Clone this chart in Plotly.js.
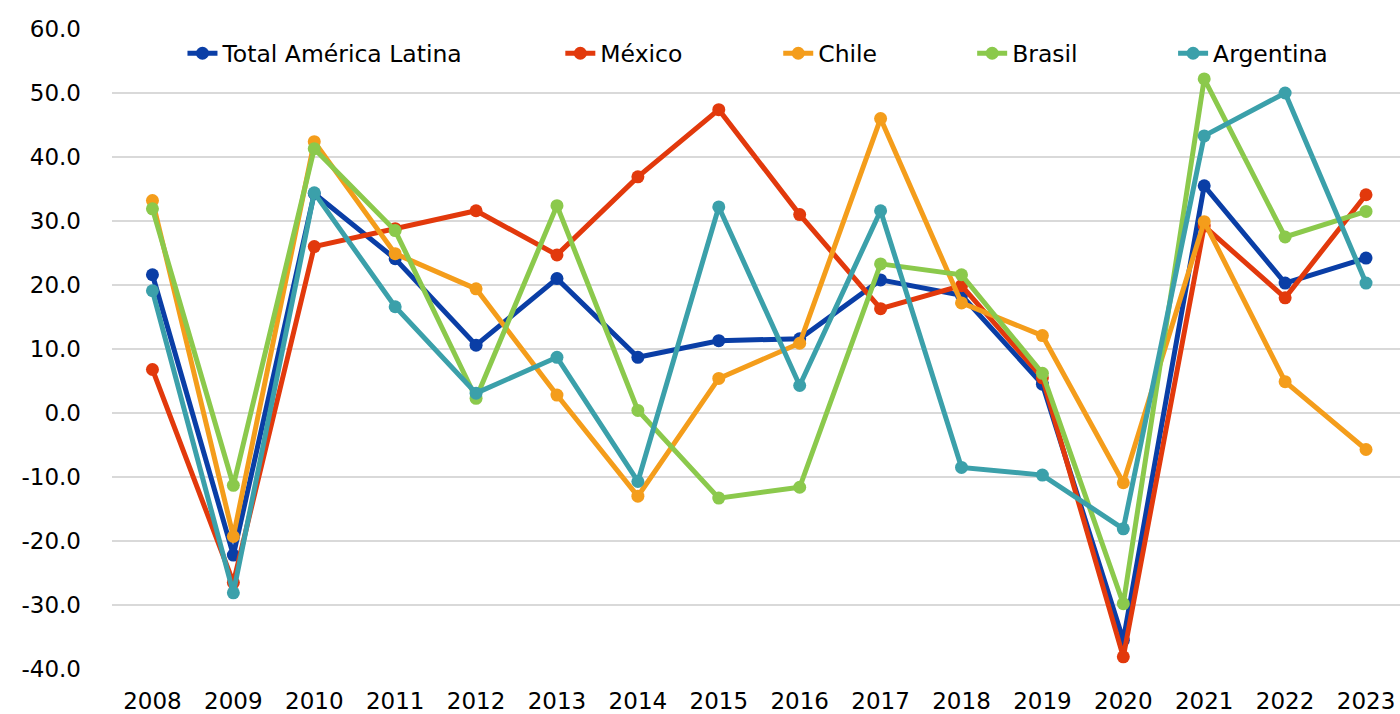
<!DOCTYPE html>
<html>
<head>
<meta charset="utf-8">
<script src="https://cdn.plot.ly/plotly-3.0.1.min.js"></script>
<style>
  html, body { margin: 0; padding: 0; background: #ffffff; }
  #chart { width: 1400px; height: 714px; }
</style>
</head>
<body>
<div id="chart"></div>
<script>
const years = ["2008","2009","2010","2011","2012","2013","2014","2015","2016","2017","2018","2019","2020","2021","2022","2023"];

const totalAmericaLatina = [21.6, -22.2, 34.3, 24.1, 10.6, 21.0, 8.7, 11.3, 11.6, 20.8, 18.4, 4.5, -35.5, 35.5, 20.3, 24.2];
const mexico    = [6.8, -26.5, 26.0, 28.8, 31.6, 24.7, 36.9, 47.4, 31.0, 16.3, 19.9, 5.5, -38.1, 29.2, 18.0, 34.1];
const chile     = [33.2, -19.3, 42.4, 24.9, 19.4, 2.8, -13.0, 5.4, 10.9, 46.0, 17.2, 12.1, -10.9, 29.9, 4.9, -5.7];
const brasil    = [31.9, -11.3, 41.3, 28.5, 2.3, 32.4, 0.4, -13.3, -11.6, 23.3, 21.6, 6.2, -29.8, 52.2, 27.5, 31.5];
const argentina = [19.1, -28.1, 34.4, 16.6, 3.1, 8.7, -10.7, 32.2, 4.3, 31.6, -8.5, -9.7, -18.1, 43.3, 50.0, 20.3];

const seriesNames = ["Total América Latina", "México", "Chile", "Brasil", "Argentina"];
const yTickVals = [-40, -30, -20, -10, 0, 10, 20, 30, 40, 50, 60];
const yTickText = ["-40.0", "-30.0", "-20.0", "-10.0", "0.0", "10.0", "20.0", "30.0", "40.0", "50.0", "60.0"];

const seriesValues = [totalAmericaLatina, mexico, chile, brasil, argentina];
const colors = ["#0a3ea6", "#e2390c", "#f49d1b", "#8bc94c", "#3ba0aa"];
const legendIds = ["legend", "legend2", "legend3", "legend4", "legend5"];

const traces = seriesNames.map((name, i) => ({
  type: "scatter",
  mode: "lines+markers",
  name: name,
  x: years,
  y: seriesValues[i],
  line: { color: colors[i], width: 5 },
  marker: { color: colors[i], size: 13 },
  legend: legendIds[i],
  hoverinfo: "x+y+name"
}));

// plot area pixel geometry
const plotLeft = 111.5, plotRight = 1400;
const plotW = plotRight - plotLeft;
// text start positions of each legend entry (px)
const legendTextX = [222, 600, 818, 1012, 1213];
const fontFamily = "DejaVu Sans, Verdana, sans-serif";
const legendFont = { family: fontFamily, size: 23.5, color: "#000000" };

const layout = {
  width: 1400,
  height: 714,
  paper_bgcolor: "#ffffff",
  plot_bgcolor: "#ffffff",
  margin: { l: plotLeft, r: 0, t: 28.5, b: 44.7, pad: 0 },
  font: { family: fontFamily, size: 23, color: "#000000" },
  showlegend: true,
  xaxis: {
    type: "category",
    range: [-0.5, 15.42],
    showgrid: false,
    zeroline: false,
    showline: false,
    ticks: "",
    tickfont: { family: fontFamily, size: 23, color: "#000000" },
    ticklabelstandoff: 16,
    fixedrange: true
  },
  yaxis: {
    range: [-40, 60],
    tickmode: "array",
    tickvals: yTickVals,
    ticktext: yTickText,
    showgrid: true,
    gridcolor: "#d9d9d9",
    gridwidth: 2,
    zeroline: false,
    showline: false,
    ticks: "",
    tickfont: { family: fontFamily, size: 23, color: "#000000" },
    ticklabelstandoff: 30,
    fixedrange: true
  }
};

legendIds.forEach((id, i) => {
  layout[id] = {
    orientation: "h",
    x: (legendTextX[i] - 40 - plotLeft) / plotW,
    xanchor: "left",
    y: (669.3 - 53) / 640.8,
    yanchor: "middle",
    bgcolor: "rgba(0,0,0,0)",
    borderwidth: 0,
    font: legendFont,
    itemclick: false,
    itemdoubleclick: false
  };
});

Plotly.newPlot("chart", traces, layout, { displayModeBar: false, staticPlot: false });
</script>
</body>
</html>
